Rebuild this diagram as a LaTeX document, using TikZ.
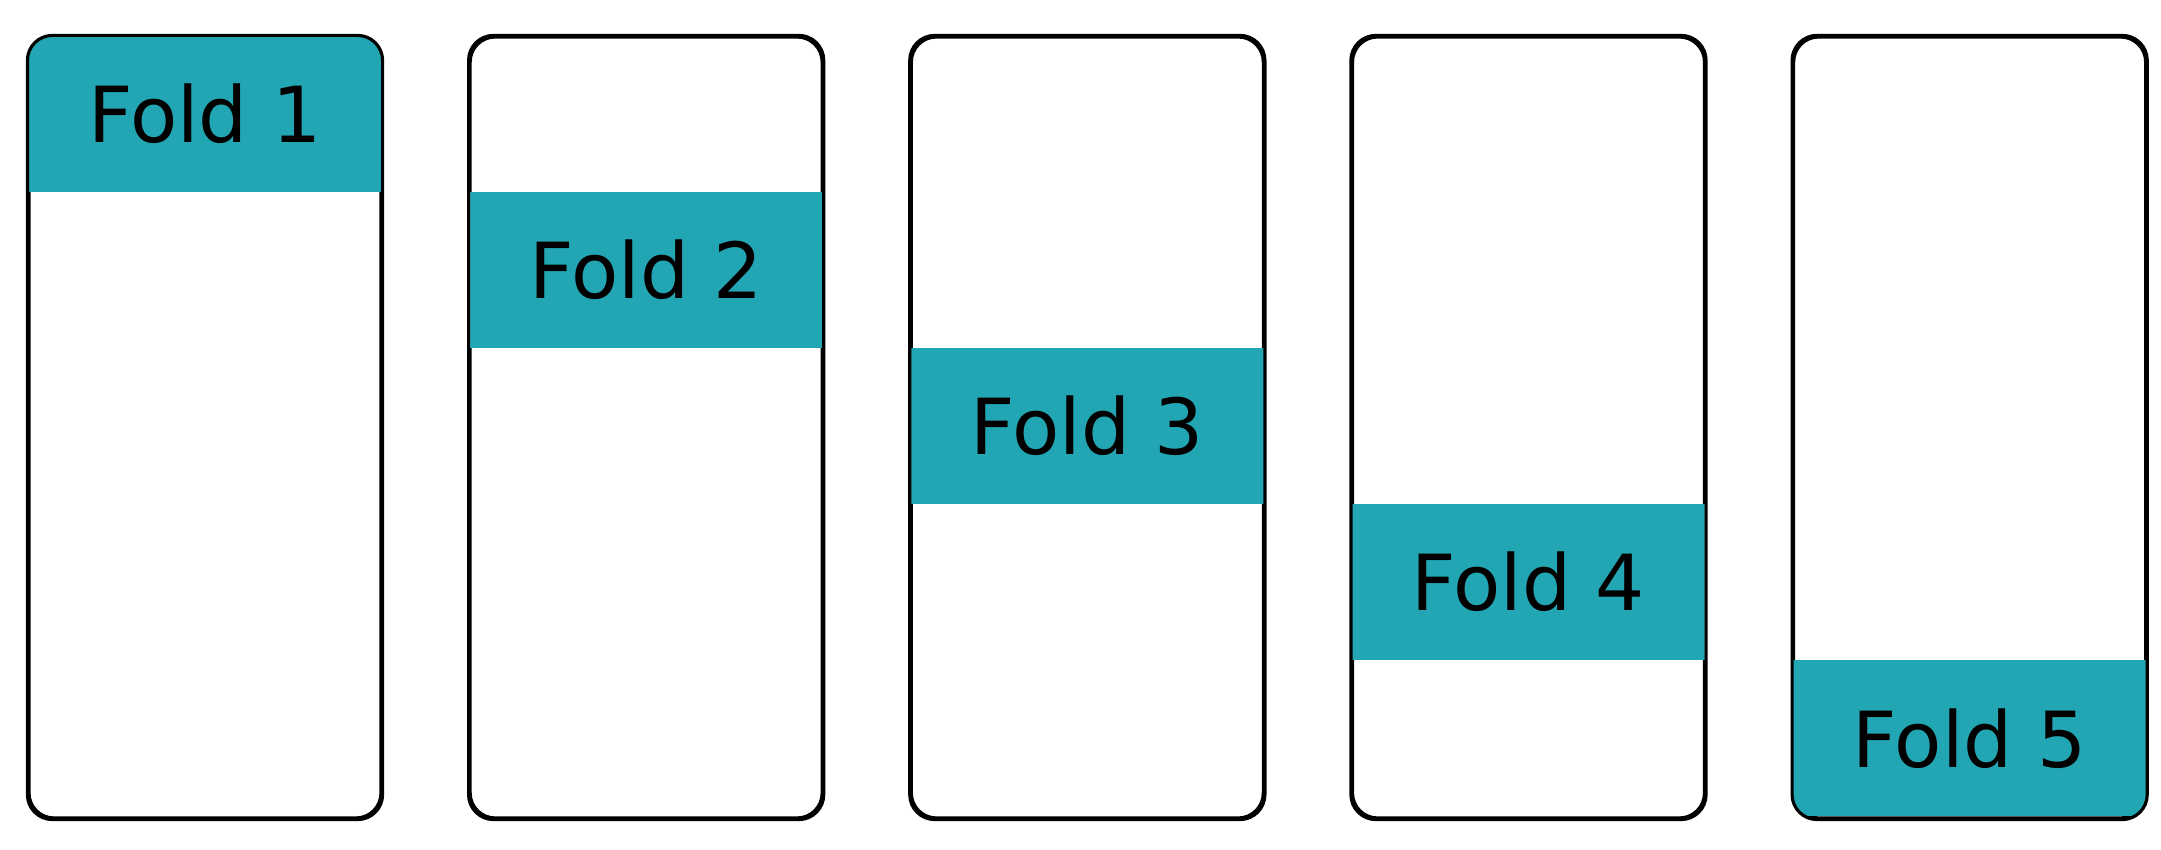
\documentclass[tikz,border=0pt]{standalone}
\usepackage{fontspec}
\setmainfont{DejaVu Sans}
\usetikzlibrary{positioning}
\definecolor{foldteal}{RGB}{34,166,179}
\begin{document}
\begin{tikzpicture}[node distance=0.86cm]
        \tikzstyle{split}=[rectangle,rounded corners=0.25cm,draw=black,line width=0.9pt,minimum width=3.52cm,minimum height=7.81cm,inner sep=0pt]
        \tikzstyle{band}=[fill=foldteal]
        \tikzstyle{label}=[font=\fontsize{22}{26}\selectfont]
        \useasboundingbox (0,0) rectangle (21.61,-8.5);

        \node [split] (s1) at (2.05,-4.275) {};   %first split
        \node [split] (s2) [right=of s1] {};
        \node [split] (s3) [right=of s2] {};
        \node [split] (s4) [right=of s3] {};
        \node [split] (s5) [right=of s4] {};

        \foreach \k in {1,...,5} {
            \begin{scope}
                \clip [rounded corners=0.25cm] (s\k.south west) rectangle (s\k.north east);
                \fill [band] ([yshift=-(\k-1)*1.562cm]s\k.north west) rectangle ([yshift=-\k*1.562cm]s\k.north east);
            \end{scope}
            \node [label] (f\k) at ([yshift=-(\k-0.5)*1.562cm]s\k.north) {Fold \k};   %fold label
            \draw [rounded corners=0.25cm,line width=0.9pt] (s\k.south west) rectangle (s\k.north east);
        }
\end{tikzpicture}
\end{document}
